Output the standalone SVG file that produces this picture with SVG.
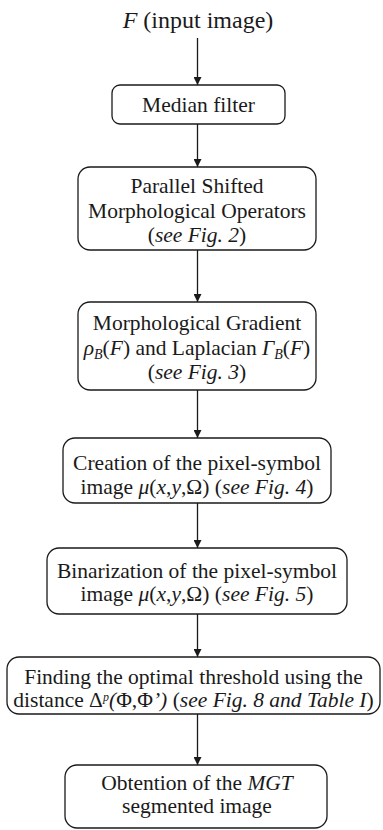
<svg xmlns="http://www.w3.org/2000/svg" width="383" height="830" viewBox="0 0 383 830">
<defs>
<marker id="ah" viewBox="0 0 10 10" refX="10" refY="5" markerWidth="8" markerHeight="8" markerUnits="userSpaceOnUse" orient="auto"><path d="M0,0 L10,5 L0,10 z" fill="#1a1a1a"/></marker>
</defs>
<style>
.box{fill:#fff;stroke:#1a1a1a;stroke-width:1.3}
.t{font-size:21.5px;fill:#1a1a1a;text-anchor:middle}
.i{font-style:italic}
.c{stroke:#1a1a1a;stroke-width:1.3;fill:none}
</style>
<rect width="383" height="830" fill="#fff"/>
<g id="connectors">
<line class="c" x1="197.5" y1="38" x2="197.5" y2="85" marker-end="url(#ah)"/>
<line class="c" x1="197.5" y1="124" x2="197.5" y2="167" marker-end="url(#ah)"/>
<line class="c" x1="197.5" y1="250" x2="197.5" y2="302" marker-end="url(#ah)"/>
<line class="c" x1="197.5" y1="390" x2="197.5" y2="438" marker-end="url(#ah)"/>
<line class="c" x1="197.5" y1="503" x2="197.5" y2="548" marker-end="url(#ah)"/>
<line class="c" x1="197.5" y1="614" x2="197.5" y2="657" marker-end="url(#ah)"/>
<line class="c" x1="197.5" y1="714" x2="197.5" y2="765" marker-end="url(#ah)"/>
</g>
<g font-family="'Liberation Serif', 'DejaVu Serif', 'Times New Roman', serif">
<g id="input">
<text class="t" x="198" y="28" style="font-size:24px"><tspan class="i">F</tspan> (input image)</text>
</g>
<g id="median">
<rect class="box" x="112" y="85" width="173" height="39" rx="8"/>
<text class="t" x="198.5" y="112">Median filter</text>
</g>
<g id="psmo">
<rect class="box" x="78" y="167" width="238" height="83" rx="12"/>
<text class="t" x="197" y="193">Parallel Shifted</text>
<text class="t" x="197" y="218">Morphological Operators</text>
<text class="t" x="197" y="242">(<tspan class="i">see Fig. 2</tspan>)</text>
</g>
<g id="gradient">
<rect class="box" x="78" y="302" width="238" height="88" rx="12"/>
<text class="t" x="197" y="330">Morphological Gradient</text>
<text class="t" x="197" y="355"><tspan class="i">ρ</tspan><tspan class="i" style="font-size:14px" dy="4">B</tspan><tspan dy="-4">(</tspan><tspan class="i">F</tspan>) and Laplacian <tspan class="i">Γ</tspan><tspan class="i" style="font-size:14px" dy="4">B</tspan><tspan dy="-4">(</tspan><tspan class="i">F</tspan>)</text>
<text class="t" x="197" y="379">(<tspan class="i">see Fig. 3</tspan>)</text>
</g>
<g id="creation">
<rect class="box" x="63" y="438" width="268" height="65" rx="12"/>
<text class="t" x="197" y="470">Creation of the pixel-symbol</text>
<text class="t" x="197" y="494">image <tspan class="i">μ</tspan>(<tspan class="i">x</tspan>,<tspan class="i">y</tspan>,Ω) (<tspan class="i">see Fig. 4</tspan>)</text>
</g>
<g id="binarization">
<rect class="box" x="47" y="548" width="300" height="66" rx="12"/>
<text class="t" x="197" y="578">Binarization of the pixel-symbol</text>
<text class="t" x="197" y="601">image <tspan class="i">μ</tspan>(<tspan class="i">x</tspan>,<tspan class="i">y</tspan>,Ω) (<tspan class="i">see Fig. 5</tspan>)</text>
</g>
<g id="threshold">
<rect class="box" x="7" y="657" width="373" height="57" rx="12"/>
<text class="t" x="193.5" y="684">Finding the optimal threshold using the</text>
<text class="t" x="193.5" y="706.5">distance Δ<tspan class="i" style="font-size:12px" dy="-6">p</tspan><tspan class="i" dy="6">(</tspan>Φ,Φ<tspan class="i">’)</tspan> (<tspan class="i">see Fig. 8 and Table I</tspan>)</text>
</g>
<g id="mgt">
<rect class="box" x="65" y="765" width="262" height="63" rx="12"/>
<text class="t" x="197" y="790">Obtention of the <tspan class="i">MGT</tspan></text>
<text class="t" x="197" y="813">segmented image</text>
</g>
</g>
</svg>
